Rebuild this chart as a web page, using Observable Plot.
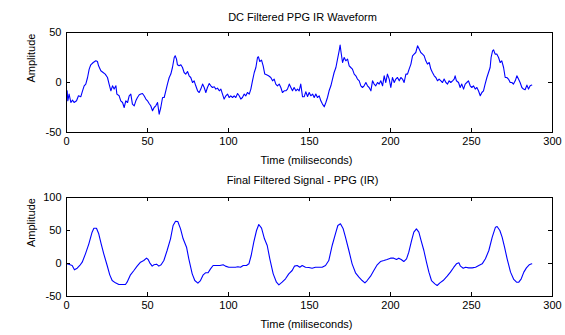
<!DOCTYPE html>
<html><head><meta charset="utf-8">
<script src="https://cdn.jsdelivr.net/npm/d3@7"></script>
<script src="https://cdn.jsdelivr.net/npm/@observablehq/plot@0.6"></script>
<style>body{margin:0;background:#fff;} #chart{width:565px;} #chart svg{display:block;}</style>
</head><body><div id="chart"></div>
<script>
// ---- Top panel: DC filtered waveform (time in ms, amplitude) ----
const topTime = [0.4,0.8,1.6,2.7,3.7,4.7,6.2,7.4,8.8,9.9,10.9,11.9,13,14,15,16.5,18.1,19.1,19.8,21.2,22.6,23.9,25.3,26.3,27.4,28.4,29.4,30.5,31.1,32.5,33.5,34.6,35.6,36.6,37.7,38.7,39.7,40.7,41.8,42.8,43.8,44.9,45.9,46.9,47.9,49,50,51,52,53.1,54.1,55.1,56.2,57.2,58.2,59.3,60.3,61.3,62.3,63.4,64.4,65.4,66.5,67.1,67.9,68.5,69.5,70.6,71.6,
72.6,73.6,74.7,75.7,76.7,77.8,78.8,79.8,80.9,81.9,82.9,84,85,86,87,88.1,89.1,90.1,91.2,92.2,93.2,94.3,95.3,96.3,97.3,98.4,99.4,100.4,101.4,102.5,103.5,104.5,105.6,106.6,107.6,108.6,109.7,110.7,111.7,112.8,113.8,114.8,115.9,116.9,117.9,118.5,119.3,120.4,121.4,122.4,123.5,124.7,126.1,127.2,128.2,129.2,130.2,131.3,132.3,133.3,134.4,135.4,136.4,137.5,138.5,139.5,140.5,141.6,142.6,143.6,144.6,145.7,146.7,
147.7,148.8,149.8,150.8,151.9,152.9,153.9,154.9,156,157,158,159.1,160.1,161.1,162.1,163.2,164.2,165.2,166.3,167.3,168.3,168.9,169.5,170.4,171.4,172.4,173.5,174.5,175.5,176.5,177.6,178.6,179.6,180.7,181.7,182.7,183.7,184.8,185.8,186.8,187.9,188.9,189.9,190.9,192,193,194,195.1,196.1,197.1,198.1,199.2,200.2,201.2,202.3,203.3,204.3,205.4,206.4,207.4,208.4,209.5,210.5,211.5,212.6,213.6,214.6,215.6,216.7,217.7,218.7,219.8,
220.8,221.8,222.8,223.9,224.9,225.9,227,228,229,230,231.1,232.1,233.1,234.2,235.2,236.2,237.2,238.3,239.3,239.9,240.7,242,243,244,245.1,246.1,247.1,248.1,249.2,250.2,251.2,252.3,253.3,254.3,255.4,256.4,257.4,258.4,259.5,260.5,261.5,262.1,263,263.6,264.6,265.6,266.7,267.7,268.7,269.8,270.8,271.8,272.8,273.9,274.9,275.9,277,278,279,280,281.1,282.1,283.1,284.2,285.2,286.2,287.2];
const topAmp = [-8.3,-18.3,-11.6,-20,-17.6,-20,-18.3,-13.3,-14.3,-8.3,-3.3,-1.6,5,13.4,17.7,20,21.7,21,16.7,11.7,10,8.4,5,-1.6,-8.3,-3.3,-6.6,-3.3,-11.6,-13.3,-18.3,-20,-25,-18.3,-20,-13.3,-11.6,-21.6,-23.3,-18.3,-15,-12.3,-11.6,-11,-13.3,-16.6,-18.3,-21,-23.3,-28.3,-25,-23.3,-20,-31.6,-25,-15,-15,-8.3,-1.6,5,8.4,15,25,26.7,23.4,17.7,16.7,17.7,15,
10,8.4,11,6.7,5,0,1.7,-3.3,-8.3,-10,-6.6,-1.6,-5,-10,-5,-1,-3.3,-5,-4.3,-6.6,-5.6,-8.3,-6.6,-11.6,-16.6,-13.3,-11.6,-15,-13.3,-15,-13.3,-15,-11,-13.3,-16.6,-15,-11.6,-13.3,-10,-11.6,-6.6,1.7,10,15,25,25.7,21,22.4,16.7,8.4,7.7,6.7,5,1.7,3.4,-1.6,-3.3,-1.6,-5,-10,-8.3,-8.3,-6.6,-1.6,-5,-8.3,-5,-8.3,-6.6,-8.3,-1.6,-14.3,-14.3,
-9.3,-14,-10,-13.3,-11.6,-15,-11.6,-15,-13.3,-18.3,-21.6,-24.3,-20,-15,-8.3,-3.3,3.4,10,15,23.4,31.7,37.4,30,20,25,21.7,23.4,16.7,15,13.4,8.4,6.7,3.4,1.7,-3.3,-5,-3.3,0,-3.3,-5,-8.3,1.7,-1.6,-3.3,0,-1.6,1.7,-3.3,6.7,0,8.4,3.4,-5,5,0,3.4,5,1.7,5,3.4,0,8.4,8.4,13.4,18.4,26.7,28.4,30,36.7,33.4,30,28.4,
26.7,21.7,18.4,20,13.4,10,6.7,5,1.7,3.4,1.7,0,3.4,0,-1.6,1.7,0,1.7,3.4,6.7,1.7,0,-5,-1.6,-6.6,-1.6,0,1.7,-3.3,-5,-3.3,-6.6,-5,-8.3,-13.3,-10,-8.3,-1.6,5,10,15,25,31.7,32.7,28.4,28.4,25,20,21.7,15,5,5,3.4,0,0,-1.6,1.7,6.7,3.4,0,-5,-6.6,-7.3,-2.6,-6.6,-3.3,-2.6];

// ---- Bottom panel: final filtered PPG (IR) ----
const botTime = [0,1.4,3.5,4.9,6.6,8.2,9.7,11.7,13.8,15.8,16.9,18.5,19.9,21.4,23,25.1,26.7,28.2,30.2,32.3,34.4,36.4,37.4,39.5,41.6,43.6,45.7,47.7,49.4,50.4,51.4,52.9,53.9,55.6,57,58.4,60.1,62.1,64.2,65.8,67.3,68.7,70.4,72,74.1,75.5,77.6,79.2,81.1,82.7,84.4,85.8,87.4,88.9,90.5,92.6,94.7,96.7,98.1,100.2,102.3,104.3,105.8,107.4,109.1,111.1,112.6,114,115.6,117.3,118.7,120.4,122.2,123.9,125.5,127.6,129.6,131.1,133.1,135.2,137.2,139.3,140.7,142.4,144,145.5,147.5,149.6,
151.6,153.7,155.8,157.8,159.9,161.9,164,166,167.5,169.1,170.8,172.2,174.3,176.3,178.4,180.5,182.5,184.2,185.6,187.7,189.7,191.8,193.8,195.9,197.9,200,202,203.7,205.1,206.6,208.2,209.9,211.3,213,214.4,216,217.5,218.9,220.6,222.2,223.7,225.3,227.4,228.8,230.5,232.5,235,237,239.1,240.7,242.2,243.2,244.9,246.3,248.3,250.4,252.5,254.5,256.6,258.6,260.7,262.8,264.8,265.8,267.5,268.9,270.4,272,274.1,276.1,277.8,279.2,280.7,282.3,283.9,285.6,287.2];
const botAmp = [-0.5,-1.2,-3,-9.6,-7.1,-3,2,14.6,29.8,47.5,53.5,53.5,45,29.8,14.6,-3,-17.2,-25.8,-29.3,-31.8,-31.8,-31.8,-28.3,-17.2,-10.6,-4,2,4.5,8.1,6.1,1,-4,-2,-1,-4,-2,4.5,19.7,37.4,57.6,64.1,63.6,52.5,37.4,24.7,7.1,-15.7,-25.8,-29.8,-25.8,-17.2,-14.1,-14.1,-8.1,-3,-3,-3,-2,-4,-5.6,-5.6,-5.6,-5,-5.6,-3,-3,-0.5,12.1,32.3,50,59.1,53.5,37.4,27.3,7.1,-15.7,-28.3,-32.3,-28.3,-23.2,-15.7,-10.6,-4,-3,-5.6,-3,-5.6,-6.1,
-7.1,-5.6,-5.6,-5.6,-3,4.5,27.3,45,57.6,60.1,52.5,39.9,19.7,-0.5,-14.1,-20.7,-25.8,-29.3,-25.8,-19.2,-10.6,-2,3,4.5,6.1,8.1,8.1,6.1,8.1,6.1,3,7.1,17.2,34.8,47.5,52.5,47.5,34.8,19.7,2,-13.1,-25.8,-30.8,-33.3,-29.3,-25.8,-19.2,-13.1,-5.6,-0.5,1,-4,-7.1,-5.6,-6.6,-6.6,-5.6,-3,-0.5,7.1,19.7,39.9,55,56.1,50,39.9,24.7,7.1,-13.1,-24.2,-28.3,-28.3,-23.2,-13.1,-6.6,-2,-0.5];

const xTicks = [0, 50, 100, 150, 200, 250, 300];
const topYTicks = [-50, 0, 50];
const botYTicks = [-50, 0, 50, 100];
const topTitle = "DC Filtered PPG IR Waveform";
const botTitle = "Final Filtered Signal - PPG (IR)";
const xLabel = "Time (miliseconds)";
const yLabel = "Amplitude";

function panel({time, amp, yDomain, yTicks, title, height, marginTop, marginBottom, titleDy}) {
  const data = time.map((t, i) => ({t, v: amp[i]}));
  const mL = 66, mR = 13, W = 565;
  const fw = W - mL - mR, fh = height - marginTop - marginBottom, tk = 4;
  const fmt = d => String(d);
  return Plot.plot({
    width: W, height, marginLeft: mL, marginRight: mR, marginTop, marginBottom,
    style: {fontFamily: "'Liberation Sans', Arial, sans-serif", fontSize: "11px", color: "#000", background: "#fff", overflow: "visible"},
    x: {domain: [0, 300]},
    y: {domain: yDomain},
    marks: [
      Plot.line(data, {x: "t", y: "v", stroke: "#0000ff", strokeWidth: 1.1}),
      Plot.tickX(xTicks, {x: d => d, insetTop: fh - tk, stroke: "#000"}),
      Plot.tickX(xTicks, {x: d => d, insetBottom: fh - tk, stroke: "#000"}),
      Plot.tickY(yTicks, {y: d => d, insetRight: fw - tk, stroke: "#000"}),
      Plot.tickY(yTicks, {y: d => d, insetLeft: fw - tk, stroke: "#000"}),
      Plot.frame({stroke: "#000"}),
      Plot.axisX({ticks: xTicks, tickSize: 0, tickPadding: 5, tickFormat: fmt, label: null, fontSize: 11}),
      Plot.axisY({ticks: yTicks, tickSize: 0, tickPadding: 5, tickFormat: fmt, label: null, fontSize: 11}),
      Plot.text([title], {text: d => d, frameAnchor: "top", lineAnchor: "middle", dy: titleDy, dx: -7, fontSize: 11}),
      Plot.text([xLabel], {text: d => d, frameAnchor: "bottom", lineAnchor: "middle", dy: 27.5, dx: -3, fontSize: 11}),
      Plot.text([yLabel], {text: d => d, frameAnchor: "left", lineAnchor: "middle", rotate: -90, dx: -35, fontSize: 11})
    ]
  });
}

const chart = document.getElementById("chart");
chart.append(panel({time: topTime, amp: topAmp, yDomain: [-50, 50], yTicks: topYTicks, title: topTitle, height: 176, marginTop: 32, marginBottom: 44, titleDy: -15.5}));
chart.append(panel({time: botTime, amp: botAmp, yDomain: [-50, 100], yTicks: botYTicks, title: botTitle, height: 159, marginTop: 21, marginBottom: 39, titleDy: -17.5}));
</script>
</body></html>
